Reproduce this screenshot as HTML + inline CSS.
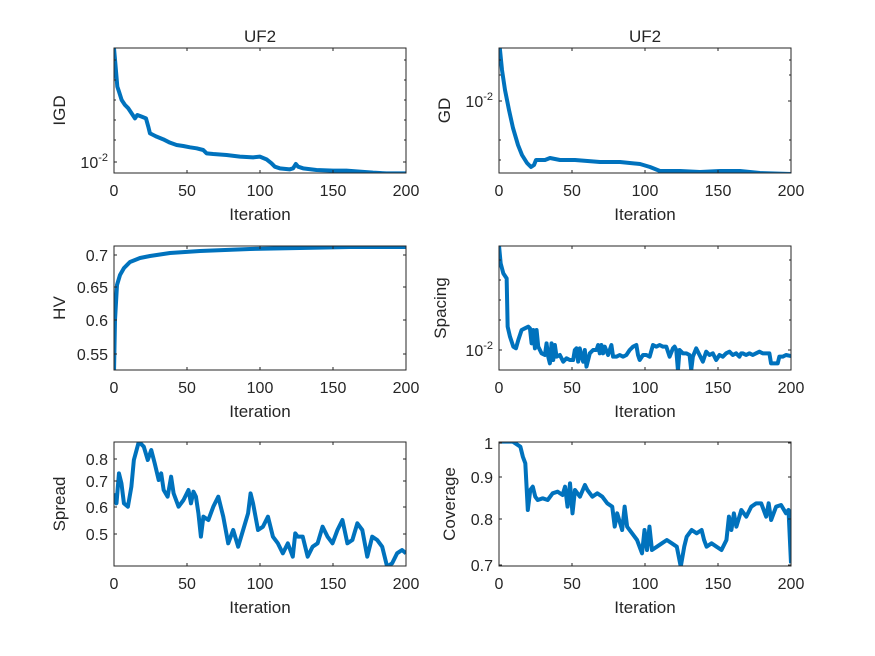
<!DOCTYPE html>
<html><head><meta charset="utf-8"><style>
html,body{margin:0;padding:0;background:#fff;}
svg{display:block;font-family:"Liberation Sans",Arial,sans-serif;}
</style></head><body>
<svg id="s" width="875" height="656" viewBox="0 0 875 656" xmlns="http://www.w3.org/2000/svg">
<rect width="875" height="656" fill="#fff"/>
<g id="g"></g>
</svg>
<script>
const NS="http://www.w3.org/2000/svg",G=document.getElementById('g');
function el(t,a,txt){const e=document.createElementNS(NS,t);for(const k in a)e.setAttribute(k,a[k]);if(txt!==undefined)e.textContent=txt;G.appendChild(e);return e;}
const C="#262626";
function panel(x0,y0,x1,y1,pts,yticks,ylab,ylx,title,sup){
  // clip
  const id="c"+x0+y0;
  const cp=el('clipPath',{id:id});cp.appendChild(Object.assign(document.createElementNS(NS,'rect'),{}));
  cp.firstChild.setAttribute('x',x0);cp.firstChild.setAttribute('y',y0);cp.firstChild.setAttribute('width',x1-x0);cp.firstChild.setAttribute('height',y1-y0);
  el('polyline',{points:pts.map(p=>p.join(',')).join(' '),fill:'none',stroke:'#0072BD','stroke-width':4,'stroke-linejoin':'round','clip-path':'url(#'+id+')'});
  el('rect',{x:x0,y:y0,width:x1-x0,height:y1-y0,fill:'none',stroke:C,'stroke-width':1});
  for(let i=0;i<=4;i++){const x=x0+(x1-x0)*i/4;
    el('line',{x1:x,y1:y1,x2:x,y2:y1-3,stroke:C});el('line',{x1:x,y1:y0,x2:x,y2:y0+3,stroke:C});
    el('text',{x:x,y:y1+23,'font-size':16,fill:C,'text-anchor':'middle'},String(i*50));}
  el('text',{x:(x0+x1)/2,y:y1+47,'font-size':17,fill:C,'text-anchor':'middle'},'Iteration');
  yticks.forEach(t=>{el('line',{x1:x0,y1:t[0],x2:x0+3,y2:t[0],stroke:C});el('line',{x1:x1,y1:t[0],x2:x1-3,y2:t[0],stroke:C});
    if(t[2]){const tx=el('text',{x:x0-6,y:t[0]+6,'font-size':16,fill:C,'text-anchor':'end'},'10');
      const ts=document.createElementNS(NS,'tspan');ts.setAttribute('dy',-7);ts.setAttribute('font-size',11);ts.textContent='-2';tx.appendChild(ts);}
    else el('text',{x:x0-6,y:t[0]+6,'font-size':16,fill:C,'text-anchor':'end'},t[1]);});
  (sup||[]).forEach(y=>{el('line',{x1:x0,y1:y,x2:x0+2,y2:y,stroke:C});el('line',{x1:x1,y1:y,x2:x1-2,y2:y,stroke:C});});
  el('text',{x:ylx,y:(y0+y1)/2,'font-size':17,fill:C,'text-anchor':'middle',transform:'rotate(-90 '+ylx+' '+(y0+y1)/2+')'},ylab);
  if(title)el('text',{x:(x0+x1)/2,y:y0-6,'font-size':17,fill:C,'text-anchor':'middle'},title);
}
function mapz(arr,zx0,zx1,px0,px1,oy,sy){return arr.map(p=>[px0+(p[0]-zx0)/(zx1-zx0)*(px1-px0),oy+p[1]/sy]);}
const igd=mapz([[222,85],[226,130],[232,200],[237,215],[245,240],[255,255],[265,265],[275,280],[285,295],[292,285],[305,290],[318,295],[325,320],[330,340],[340,345],[350,350],[370,358],[390,368],[410,375],[430,378],[450,382],[470,385],[490,390],[500,400],[520,402],[560,405],[600,410],[640,412],[660,410],[680,418],[695,430],[705,440],[720,445],[750,448],[760,445],[768,432],[775,440],[790,445],[830,450],[880,452],[920,452],[960,455],[1000,458],[1040,460],[1099,460]],222,1099,114,406,20,3);
panel(114,48,406,173,igd,[[162,'',1]],'IGD',65,'UF2',[60,80,100,120,140]);
const gd=[[499,40],[502,70],[505,90],[509,110],[513,128],[518,145],[522,155],[527,163],[531,167],[534,165],[536,160],[545,160],[550,158],[560,160],[575,160],[600,162],[620,162],[640,164],[650,167],[660,171],[680,171],[700,172],[720,171],[740,171],[760,173],[791,174]];
panel(499,48,791,173,gd,[[101,'',1]],'GD',450,'UF2',[140,160,60,75]);
const hv=[[114,372],[115,320],[117,285],[120,275],[124,268],[130,262],[140,258],[150,256],[170,253],[200,251],[250,249],[300,248],[350,247],[406,247]];
panel(114,246,406,370,hv,[[255,'0.7'],[287,'0.65'],[320,'0.6'],[354,'0.55']],'HV',65,null);
const sp=mapz([[207,47],[212,100],[220,130],[230,145],[233,290],[240,320],[250,350],[258,355],[265,330],[275,300],[285,295],[295,290],[300,295],[305,340],[310,300],[315,355],[320,300],[325,350],[335,370],[345,375],[350,340],[355,380],[360,400],[365,340],[370,390],[375,345],[380,380],[390,375],[400,395],[410,385],[420,390],[430,390],[435,360],[440,355],[445,395],[450,355],[455,380],[460,395],[465,360],[470,410],[480,370],[490,360],[500,360],[505,345],[510,370],[515,345],[520,370],[525,350],[535,375],[545,345],[550,380],[560,380],[570,375],[580,380],[590,375],[600,360],[610,350],[620,345],[625,375],[630,390],[640,375],[650,375],[660,380],[670,345],[680,350],[690,345],[700,350],[710,350],[720,380],[730,355],[735,350],[740,360],[745,420],[750,360],[760,370],[770,370],[780,375],[785,420],[790,380],[800,355],[810,375],[820,395],[830,365],[840,375],[850,370],[860,390],[870,375],[880,380],[890,370],[900,365],[910,375],[920,370],[930,380],[935,370],[940,370],[950,375],[960,370],[970,375],[980,370],[990,365],[1000,370],[1010,370],[1020,370],[1025,400],[1035,400],[1045,400],[1050,380],[1060,380],[1070,375],[1085,378]],207,1085,499,791,230,3);
panel(499,246,791,370,sp,[[350,'',1]],'Spacing',446,null,[260,280,300,320]);
const spr=mapz([[150,190],[155,220],[160,130],[165,160],[170,220],[178,230],[185,170],[190,90],[200,35],[210,50],[218,90],[225,60],[232,100],[240,150],[245,130],[250,180],[258,200],[265,140],[270,190],[280,230],[290,210],[300,180],[305,220],[310,185],[315,200],[320,250],[325,320],[330,260],[340,270],[350,230],[360,200],[370,260],[380,340],[390,300],[400,350],[410,300],[420,250],[425,190],[430,220],[440,300],[450,290],[460,260],[470,320],[480,340],[490,370],[500,340],[510,380],[515,310],[520,320],[530,320],[540,380],[550,350],[560,340],[570,290],[580,320],[590,340],[600,300],[610,270],[620,340],[630,330],[640,280],[650,300],[660,380],[670,320],[680,330],[690,350],[700,410],[710,400],[720,370],[730,360],[738,370]],150,738,114,406,430,3);
panel(114,442,406,566,spr,[[459,'0.8'],[481,'0.7'],[507,'0.6'],[534,'0.5']],'Spread',65,null);
const cov=mapz([[922,35],[950,35],[965,50],[970,80],[975,100],[980,240],[985,180],[990,170],[995,200],[1000,210],[1010,205],[1020,210],[1030,190],[1040,185],[1050,195],[1055,170],[1060,230],[1065,160],[1070,250],[1075,180],[1085,200],[1095,165],[1100,180],[1110,200],[1120,190],[1130,200],[1140,220],[1150,230],[1155,290],[1160,250],[1170,300],[1175,230],[1180,290],[1190,310],[1200,330],[1210,370],[1215,300],[1220,360],[1225,290],[1230,360],[1240,350],[1250,340],[1260,330],[1270,340],[1280,350],[1288,410],[1295,350],[1300,320],[1310,300],[1320,310],[1330,300],[1335,330],[1340,350],[1350,340],[1360,350],[1370,360],[1380,330],[1385,260],[1390,300],[1395,250],[1400,290],[1410,240],[1420,260],[1430,230],[1440,220],[1450,220],[1460,260],[1465,220],[1470,270],[1480,230],[1490,225],[1500,250],[1505,240],[1510,400]],922,1510,499,791,430,3);
panel(499,442,791,566,cov,[[443,'1'],[477,'0.9'],[519,'0.8'],[565,'0.7']],'Coverage',455,null);
</script>
</body></html>
